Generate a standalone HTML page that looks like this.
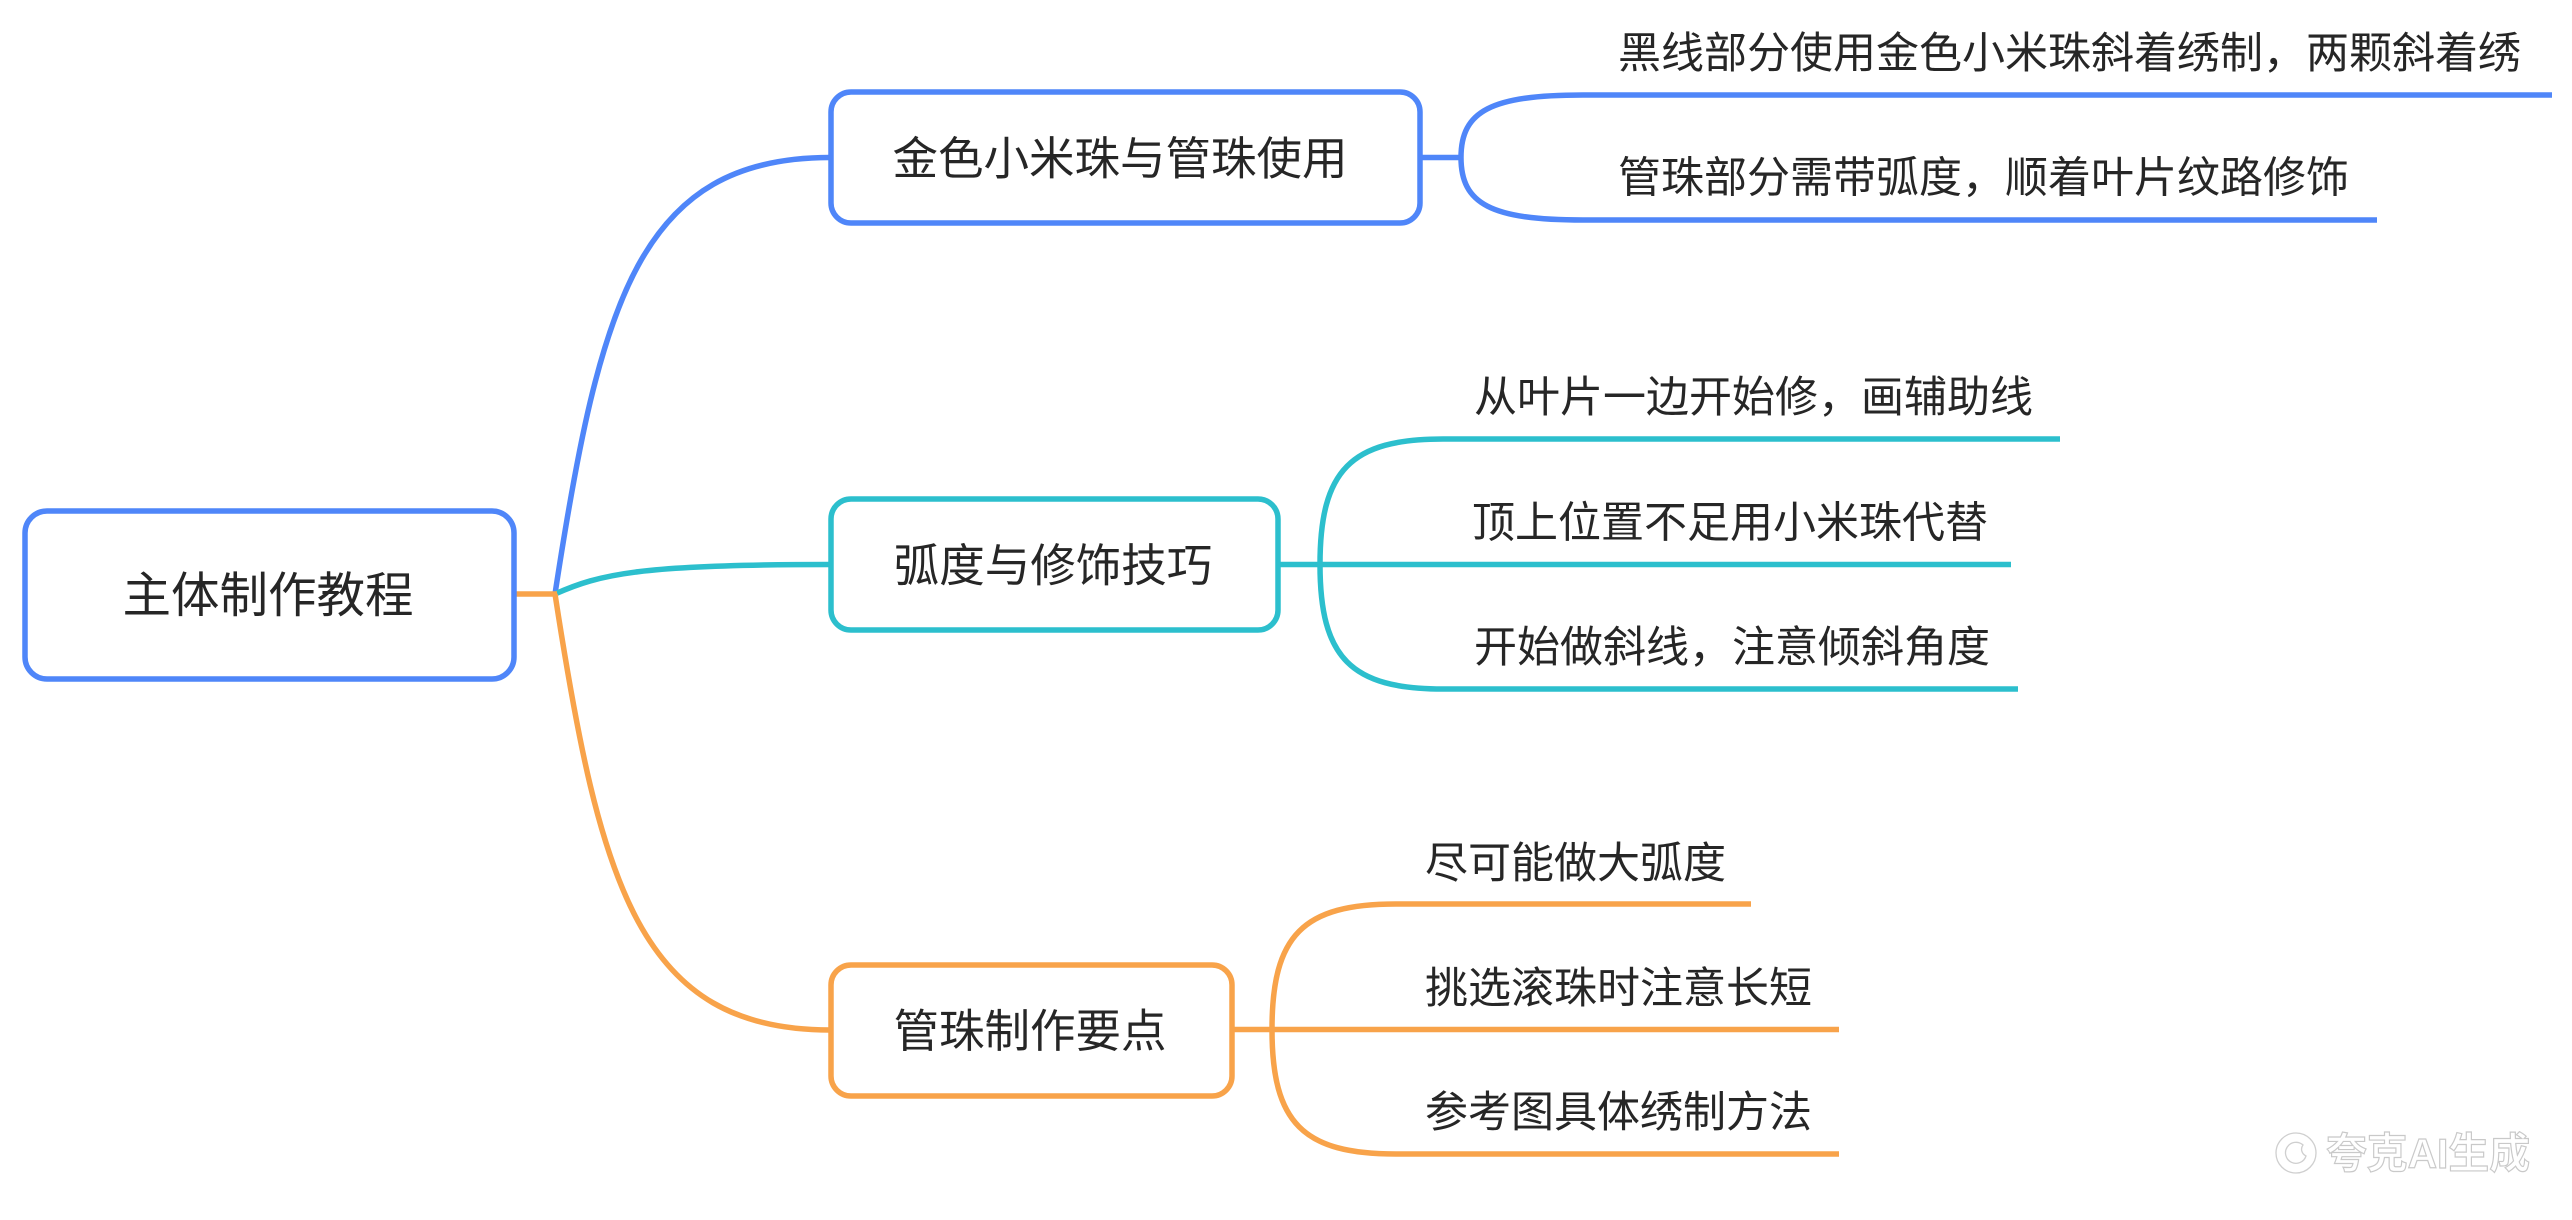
<!DOCTYPE html>
<html>
<head>
<meta charset="utf-8">
<style>
  html, body { margin: 0; padding: 0; background: #ffffff; }
  body { width: 2572px; height: 1220px; overflow: hidden; }
  svg { display: block; }
  text { font-family: "Liberation Sans", "Noto Sans CJK SC", sans-serif; fill: #262626; }
</style>
</head>
<body>
<svg width="2572" height="1220" viewBox="0 0 2572 1220" xmlns="http://www.w3.org/2000/svg">
  <rect x="0" y="0" width="2572" height="1220" fill="#ffffff"/>

  <!-- main connectors -->
  <g fill="none" stroke-width="5.5" stroke-linecap="butt">
    <path d="M555,594 C600,300 640,157.5 830,157.5" stroke="#4F86F9"/>
    <path d="M555,594 C600,574 640,564.5 830,564.5" stroke="#2CBFCD"/>
    <path d="M555,594 C600,886 640,1030 830,1030" stroke="#F8A34A"/>
    <path d="M515,594 H557" stroke="#F8A34A"/>
  </g>

  <!-- branch 1 connectors (blue) -->
  <g fill="none" stroke="#4F86F9" stroke-width="5.5">
    <path d="M1421,157.5 H1461"/>
    <path d="M1461,157.5 C1461,111 1491,95 1583,95 H2552"/>
    <path d="M1461,157.5 C1461,204 1491,220 1583,220 H2377"/>
  </g>

  <!-- branch 2 connectors (teal) -->
  <g fill="none" stroke="#2CBFCD" stroke-width="5.5">
    <path d="M1279,564.5 H2011"/>
    <path d="M1320,564.5 C1320,470 1351,439 1443,439 H2060"/>
    <path d="M1320,564.5 C1320,658 1351,689 1443,689 H2018"/>
  </g>

  <!-- branch 3 connectors (orange) -->
  <g fill="none" stroke="#F8A34A" stroke-width="5.5">
    <path d="M1233,1029.5 H1839"/>
    <path d="M1272,1029.5 C1272,935 1303,904 1396,904 H1751"/>
    <path d="M1272,1029.5 C1272,1123 1303,1154 1396,1154 H1839"/>
  </g>

  <!-- boxes -->
  <rect x="25" y="511" width="489" height="168" rx="22" ry="22" fill="#ffffff" stroke="#4F86F9" stroke-width="5.5"/>
  <rect x="831" y="92" width="589" height="131" rx="20" ry="20" fill="#ffffff" stroke="#4F86F9" stroke-width="5.5"/>
  <rect x="831" y="499" width="447" height="131" rx="20" ry="20" fill="#ffffff" stroke="#2CBFCD" stroke-width="5.5"/>
  <rect x="831" y="965" width="401" height="131" rx="20" ry="20" fill="#ffffff" stroke="#F8A34A" stroke-width="5.5"/>

  <!-- box texts -->
  <text x="268" y="612" font-size="48.5" text-anchor="middle">主体制作教程</text>
  <text x="1120" y="174.5" font-size="45.5" text-anchor="middle">金色小米珠与管珠使用</text>
  <text x="1053" y="581.5" font-size="45.5" text-anchor="middle">弧度与修饰技巧</text>
  <text x="1030" y="1047" font-size="45.5" text-anchor="middle">管珠制作要点</text>

  <!-- leaf texts -->
  <text x="1618" y="68" font-size="43">黑线部分使用金色小米珠斜着绣制，两颗斜着绣</text>
  <text x="1618" y="192.5" font-size="43">管珠部分需带弧度，顺着叶片纹路修饰</text>

  <text x="1474" y="412" font-size="43">从叶片一边开始修，画辅助线</text>
  <text x="1472" y="537.5" font-size="43">顶上位置不足用小米珠代替</text>
  <text x="1474" y="662" font-size="43">开始做斜线，注意倾斜角度</text>

  <text x="1425" y="878" font-size="43">尽可能做大弧度</text>
  <text x="1425" y="1003" font-size="43">挑选滚珠时注意长短</text>
  <text x="1425" y="1127" font-size="43">参考图具体绣制方法</text>

  <!-- watermark -->
  <g fill="none" stroke="#cfcfcf" stroke-width="1.3">
    <circle cx="2296" cy="1153" r="20"/>
    <path d="M2306,1156 A10.5,10.5 0 1 1 2303,1145 C2300,1149 2302,1154 2306,1156 Z"/>
  </g>
  <text x="2326" y="1168" font-size="42" font-weight="bold" textLength="204" lengthAdjust="spacingAndGlyphs" style="fill:#ffffff; stroke:#c9c9c9; stroke-width:1.2;">夸克AI生成</text>
</svg>
</body>
</html>
